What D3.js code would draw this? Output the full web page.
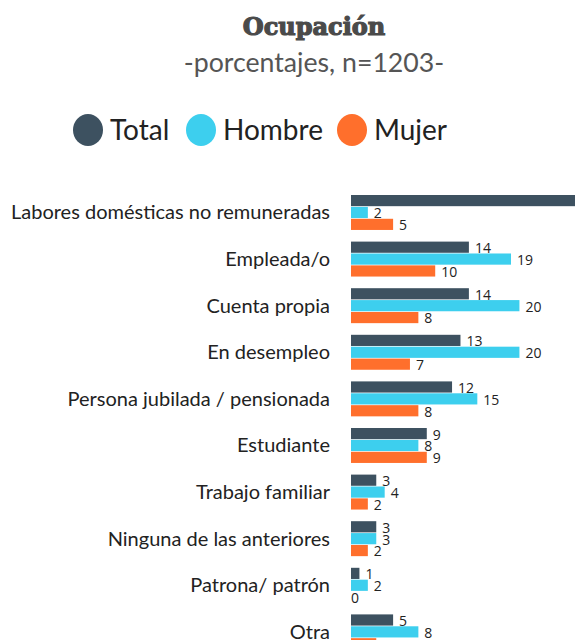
<!DOCTYPE html>
<html>
<head>
<meta charset="utf-8">
<script src="https://cdn.jsdelivr.net/npm/d3@7"></script>
<style>
  body { margin: 0; background: #fff; }
  svg { display: block; }
</style>
</head>
<body>
<svg id="chart" width="575" height="640"></svg>
<script>
// categories, top to bottom
const categories = [
  "Labores domésticas no remuneradas",
  "Empleada/o",
  "Cuenta propia",
  "En desempleo",
  "Persona jubilada / pensionada",
  "Estudiante",
  "Trabajo familiar",
  "Ninguna de las anteriores",
  "Patrona/ patrón",
  "Otra"
];
const seriesNames = ["Total", "Hombre", "Mujer"];
const seriesColors = ["#3d5160", "#3dcfee", "#ff6f2c"];

// values in percent (first Total is cut off in the picture)
const totalValues = [28, 14, 14, 13, 12, 9, 3, 3, 1, 5];
const hombreValues = [2, 19, 20, 20, 15, 8, 4, 3, 2, 8];
const mujerValues = [5, 10, 8, 7, 8, 9, 2, 2, 0, 3];

const series = [totalValues, hombreValues, mujerValues];

const svg = d3.select("svg#chart");

// title
svg.append("text")
  .attr("x", 314).attr("y", 35)
  .attr("text-anchor", "middle")
  .style("font-family", "'DejaVu Serif', serif")
  .style("font-weight", "bold")
  .style("font-size", "24px")
  .style("fill", "#4a4a4a")
  .style("stroke", "#4a4a4a")
  .style("stroke-width", "1.2px")
  .text("Ocupación");

svg.append("text")
  .attr("x", 314).attr("y", 72)
  .attr("text-anchor", "middle")
  .style("font-family", "Lato, sans-serif")
  .style("font-size", "26.7px")
  .style("fill", "#555")
  .text("-porcentajes, n=1203-");

// legend
const legendX = [88, 201, 352];
const legend = svg.append("g").attr("class", "legend");
seriesNames.forEach(function(name, i) {
  legend.append("ellipse")
    .attr("cx", legendX[i]).attr("cy", 130)
    .attr("rx", 15).attr("ry", 16)
    .attr("fill", seriesColors[i]);
  legend.append("text")
    .attr("x", legendX[i] + 22).attr("y", 140)
    .style("font-family", "Lato, sans-serif")
    .style("font-size", "28px")
    .style("fill", "#222")
    .text(name);
});

// scales
const x = d3.scaleLinear().domain([0, 26.6]).range([351, 575]);

const step = 46.6;
const y = d3.scaleBand()
  .domain(categories)
  .range([195, 195 + step * (categories.length - 0.25)])
  .paddingInner(0.25)
  .paddingOuter(0);

const ySub = d3.scaleBand()
  .domain(seriesNames)
  .range([0, y.bandwidth()])
  .paddingInner(0.06);

// category labels
const yAxis = d3.axisLeft(y).tickSize(0).tickPadding(0);
const axisG = svg.append("g")
  .attr("transform", translate(330, 0))
  .call(yAxis);
axisG.select(".domain").remove();
axisG.selectAll(".tick text")
  .attr("y", 0)
  .attr("dy", "0.35em")
  .attr("transform", translate(0, ySub("Hombre") + ySub.bandwidth() / 2 - y.bandwidth() / 2))
  .style("font-family", "Lato, sans-serif")
  .style("font-size", "20px")
  .style("fill", "#222");

// bars
const groups = svg.append("g").attr("class", "bars")
  .selectAll("g.group")
  .data(categories)
  .enter()
  .append("g")
  .attr("class", "group")
  .attr("transform", function(d) { return translate(0, y(d)); });

groups.selectAll("rect")
  .data(function(d, i) {
    return seriesNames.map(function(s, j) { return { s: s, j: j, v: series[j][i] }; });
  })
  .enter()
  .append("rect")
  .attr("x", x(0))
  .attr("y", function(d) { return ySub(d.s); })
  .attr("width", function(d) { return x(d.v) - x(0); })
  .attr("height", ySub.bandwidth())
  .attr("fill", function(d) { return seriesColors[d.j]; });

groups.selectAll("text.value")
  .data(function(d, i) {
    return seriesNames.map(function(s, j) { return { s: s, j: j, v: series[j][i] }; });
  })
  .enter()
  .append("text")
  .attr("class", "value")
  .attr("x", function(d) { return x(d.v) + (d.v === 0 ? 0 : 6); })
  .attr("y", function(d) { return ySub(d.s) + ySub.bandwidth() / 2 + 1; })
  .attr("dy", "0.35em")
  .style("font-family", "'Open Sans', sans-serif")
  .style("font-size", "14px")
  .style("fill", "#222")
  .text(function(d) { return d.v; });

function translate(x, y) {
  return "translate(" + String(x) + "," + String(y) + ")";
}
</script>
</body>
</html>
